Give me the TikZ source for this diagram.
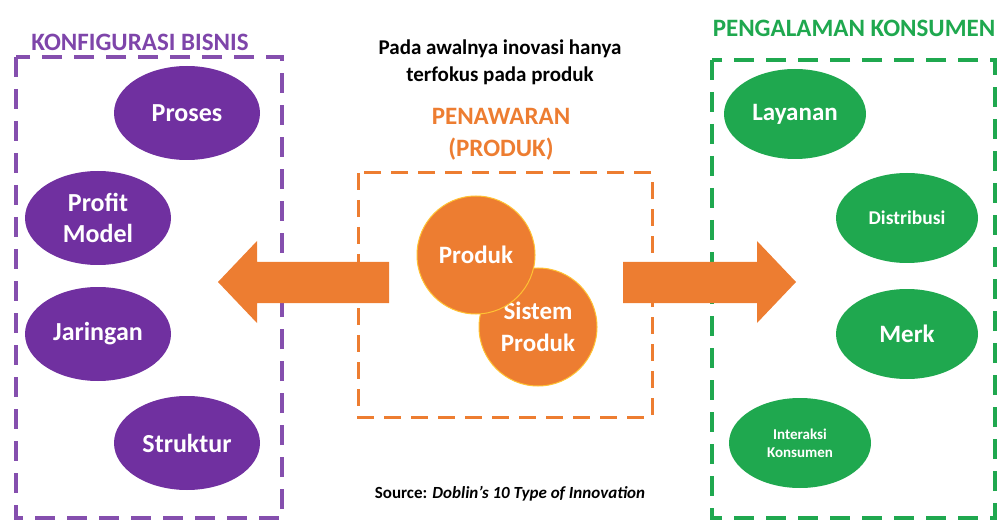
\documentclass[tikz,border=0pt]{standalone}
\usepackage{fontspec}
\setmainfont{Carlito}
\usetikzlibrary{positioning,shapes.geometric}

\definecolor{ungu}{HTML}{7030A0}
\definecolor{hijau}{HTML}{1FA84F}
\definecolor{oranye}{HTML}{ED7D31}

\begin{document}
\begin{tikzpicture}
[x=1pt,y=-1pt,every node/.style={font=\bfseries},
 bisnis/.style={ellipse,fill=ungu,text=white,minimum width=146pt,minimum height=94pt,inner sep=0pt,align=center,font=\bfseries\fontsize{26}{31}\selectfont},
 konsumen/.style={ellipse,fill=hijau,text=white,minimum width=142pt,minimum height=90pt,inner sep=0pt,align=center},
 produk/.style={circle,fill=oranye,draw=orange!60!yellow!80!white,line width=1pt,text=white,minimum size=118pt,inner sep=0pt,align=center,font=\bfseries\fontsize{25}{32}\selectfont},
 kotak/.style={line width=3.5pt,dash pattern=on 20pt off 12pt},
 judul/.style={font=\bfseries\fontsize{25}{32}\selectfont}]

\useasboundingbox (0,0) rectangle (998,521);

% konfigurasi bisnis
\node[judul,text=ungu!90] (judulB) at (140,42) {KONFIGURASI BISNIS};
\draw[kotak,ungu!85] (16,57) rectangle (282,518);
\node[bisnis] (proses) at (187,113) {Proses};
\node[bisnis] (profit) at (98,218) {Profit\\Model};
\node[bisnis] (jaringan) at (98,334) {Jaringan};
\node[bisnis] (struktur) at (187,443) {Struktur};

% penawaran
\node[font=\bfseries\fontsize{21}{27}\selectfont,align=center] (catatan) at (500,62) {Pada awalnya inovasi hanya\\terfokus pada produk};
\node[judul,text=oranye,align=center] (tawar) at (501,134) {PENAWARAN\\(PRODUK)};
\draw[oranye,line width=3pt,dash pattern=on 17pt off 10pt] (358,173) rectangle (652,417);
\node[produk] (sistem) at (538,327) {Sistem\\Produk};
\node[produk] (prod) at (476,255) {Produk};
\node[font=\bfseries\fontsize{17}{20}\selectfont] (sumber) at (510,494) {Source: \textit{Doblin’s 10 Type of Innovation}};

% pengalaman konsumen
\node[judul,text=hijau] (judulK) at (854,28) {PENGALAMAN KONSUMEN};
\draw[kotak,hijau] (712,60) rectangle (995,518);
\node[konsumen,font=\bfseries\fontsize{25}{30}\selectfont] (layanan) at (795,114) {Layanan};
\node[konsumen,font=\bfseries\fontsize{19.5}{24}\selectfont] (distribusi) at (907,218) {Distribusi};
\node[konsumen,font=\bfseries\fontsize{25}{30}\selectfont] (merk) at (907,334) {Merk};
\node[konsumen,font=\bfseries\fontsize{15}{18}\selectfont] (interaksi) at (800,443) {Interaksi\\Konsumen};

% panah
\fill[oranye] (389,262) -- (257,262) -- (257,241) -- (218,282) -- (257,323) -- (257,303) -- (389,303) -- cycle;
\fill[oranye] (623,262) -- (757,262) -- (757,241) -- (796,282) -- (757,323) -- (757,303) -- (623,303) -- cycle;
\end{tikzpicture}
\end{document}
